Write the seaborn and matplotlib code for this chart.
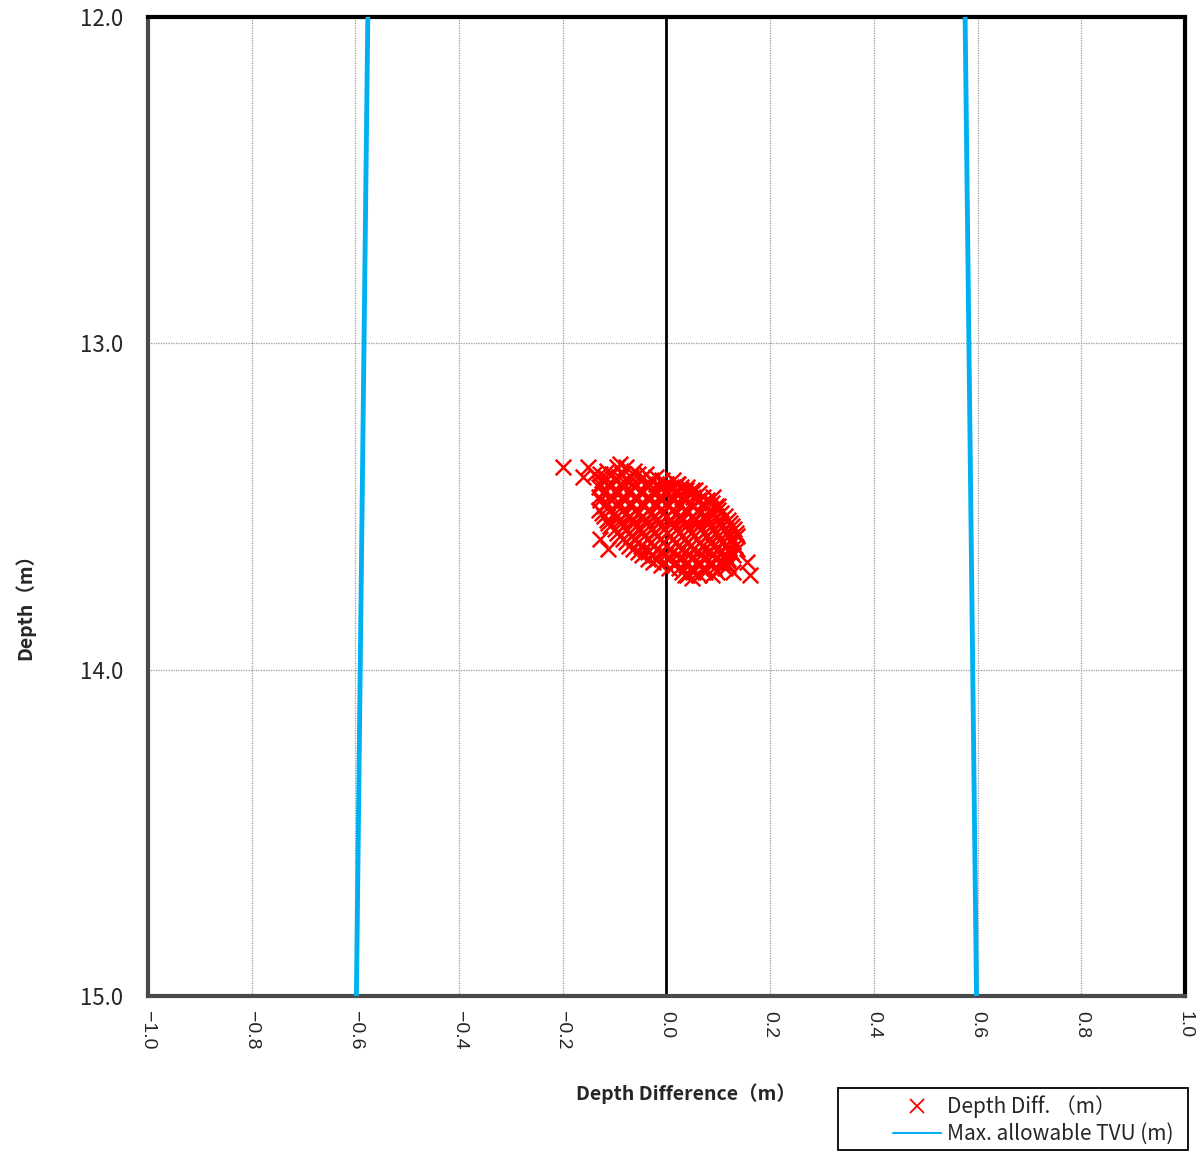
import matplotlib
matplotlib.use("Agg")
import matplotlib.pyplot as plt
import seaborn as sns
import pandas as pd
from matplotlib.lines import Line2D
from matplotlib.patches import Rectangle

sns.set_theme(style="white")
JP = ["Noto Sans CJK JP", "DejaVu Sans"]
plt.rcParams["font.family"] = JP

# Maximum allowable TVU envelope (m) at the ends of the depth range
tvu_depth = [12.0, 15.0]
tvu_limit = [0.576, 0.598]

# Depth differences (m) grouped by sounding depth (m)
row_depths = [13.38, 13.39, 13.40, 13.41, 13.42, 13.43, 13.44, 13.45, 13.46,
              13.47, 13.48, 13.49, 13.50, 13.51, 13.52, 13.53, 13.54, 13.55,
              13.56, 13.57, 13.58, 13.59, 13.60, 13.61, 13.62, 13.63, 13.64,
              13.65, 13.66, 13.67, 13.68, 13.69, 13.70, 13.71]
row_diffs = [
    [-0.095, -0.078],
    [-0.115, -0.062],
    [-0.128, -0.105, -0.085, -0.055, -0.040],
    [-0.118, -0.092, -0.068, -0.045, -0.020],
    [-0.125, -0.100, -0.078, -0.052, -0.030, -0.008, 0.012],
    [-0.128, -0.112, -0.090, -0.067, -0.042, -0.020, 0.000, 0.022],
    [-0.130, -0.108, -0.082, -0.060, -0.035, -0.012, 0.008, 0.028, 0.040],
    [-0.118, -0.095, -0.070, -0.047, -0.022, 0.000, 0.018, 0.038, 0.055],
    [-0.122, -0.097, -0.072, -0.050, -0.025, -0.003, 0.020, 0.045, 0.062],
    [-0.130, -0.110, -0.085, -0.060, -0.038, -0.015, 0.008, 0.030, 0.052, 0.070],
    [-0.128, -0.105, -0.080, -0.058, -0.033, -0.010, 0.012, 0.035, 0.060, 0.078],
    [-0.115, -0.092, -0.068, -0.045, -0.020, 0.002, 0.024, 0.048, 0.070, 0.088],
    [-0.120, -0.095, -0.070, -0.045, -0.020, 0.003, 0.027, 0.050, 0.075, 0.096],
    [-0.130, -0.108, -0.083, -0.060, -0.035, -0.012, 0.010, 0.035, 0.060, 0.082, 0.100],
    [-0.125, -0.100, -0.078, -0.055, -0.030, -0.006, 0.018, 0.040, 0.065, 0.088, 0.106],
    [-0.120, -0.095, -0.070, -0.045, -0.022, 0.002, 0.028, 0.052, 0.076, 0.095, 0.112],
    [-0.115, -0.090, -0.065, -0.040, -0.018, 0.008, 0.030, 0.055, 0.078, 0.100, 0.118],
    [-0.112, -0.088, -0.062, -0.038, -0.015, 0.010, 0.035, 0.058, 0.082, 0.105, 0.122],
    [-0.108, -0.083, -0.058, -0.034, -0.010, 0.015, 0.038, 0.062, 0.085, 0.108, 0.126],
    [-0.100, -0.078, -0.052, -0.028, -0.005, 0.020, 0.043, 0.067, 0.090, 0.112, 0.130],
    [-0.095, -0.072, -0.048, -0.022, 0.002, 0.025, 0.048, 0.072, 0.095, 0.116, 0.134],
    [-0.090, -0.068, -0.043, -0.018, 0.006, 0.030, 0.054, 0.078, 0.100, 0.120, 0.136],
    [-0.084, -0.063, -0.038, -0.013, 0.012, 0.035, 0.058, 0.082, 0.104, 0.125],
    [-0.078, -0.055, -0.030, -0.006, 0.018, 0.040, 0.064, 0.086, 0.108, 0.128],
    [-0.072, -0.050, -0.025, 0.000, 0.022, 0.045, 0.068, 0.090, 0.112, 0.133],
    [-0.065, -0.042, -0.018, 0.006, 0.030, 0.052, 0.075, 0.098, 0.120, 0.136],
    [-0.055, -0.035, -0.010, 0.013, 0.036, 0.060, 0.082, 0.105, 0.125],
    [-0.048, -0.026, -0.002, 0.020, 0.043, 0.067, 0.090, 0.112, 0.128],
    [-0.035, -0.018, 0.005, 0.028, 0.050, 0.074, 0.096, 0.118],
    [-0.025, -0.005, 0.018, 0.040, 0.063, 0.086, 0.108, 0.120],
    [-0.010, 0.015, 0.038, 0.062, 0.085, 0.108, 0.118],
    [0.005, 0.025, 0.048, 0.070, 0.092, 0.112],
    [0.030, 0.052, 0.075, 0.098],
    [0.035, 0.062, 0.088],
]
# Scattered soundings around the main cluster
outlier_diffs = [-0.200, -0.151, -0.161, -0.140, -0.090, -0.128, -0.113, 0.155,
                 0.161, 0.128, 0.040, 0.050, 0.099, 0.090, 0.050, 0.020, 0.000]
outlier_depths = [13.38, 13.38, 13.41, 13.40, 13.37, 13.60, 13.63, 13.67,
                  13.71, 13.70, 13.71, 13.72, 13.50, 13.47, 13.45, 13.43, 13.43]

x_ticks = [-1.0, -0.8, -0.6, -0.4, -0.2, 0.0, 0.2, 0.4, 0.6, 0.8, 1.0]
y_ticks = [12.0, 13.0, 14.0, 15.0]

diffs, depths = [], []
for d, xs in zip(row_depths, row_diffs):
    diffs.extend(xs)
    depths.extend([d] * len(xs))
diffs.extend(outlier_diffs)
depths.extend(outlier_depths)
pts = pd.DataFrame({"diff": diffs, "depth": depths})

tvu = pd.DataFrame({"depth": tvu_depth * 2,
                    "limit": [-v for v in tvu_limit] + tvu_limit,
                    "side": ["neg", "neg", "pos", "pos"]})

fig = plt.figure(figsize=(12.03, 11.62), dpi=100)
ax = fig.add_axes([0.123, 0.1429, 0.862, 0.8425])

ax.grid(True, color="#9a9a9a", linestyle=(0, (1, 1)), linewidth=0.9)
ax.axvline(0.0, color="black", linewidth=2.0, zorder=2)

blue = "#00B0F0"
for side, grp in tvu.groupby("side"):
    sns.lineplot(data=grp, x="limit", y="depth", sort=False, estimator=None,
                 color=blue, linewidth=3.5, ax=ax, zorder=3)

sns.scatterplot(data=pts, x="diff", y="depth", marker="x", color="red",
                s=125, linewidth=1.8, ax=ax, zorder=4)

ax.set_xlim(-1.0, 1.0)
ax.set_ylim(15.0, 12.0)
ax.set_xticks(x_ticks)
ax.set_yticks(y_ticks)
ax.set_xticklabels([f"{v:.1f}".replace("-", "\u2212") for v in x_ticks],
                   rotation=-90, fontsize=14, family="Liberation Sans")
ax.set_yticklabels([f"{v:.1f}" for v in y_ticks], fontsize=16)
ax.tick_params(axis="both", length=0)
ax.tick_params(axis="y", pad=18)
ax.tick_params(axis="x", pad=11)

for name, sp in ax.spines.items():
    sp.set_visible(True)
    sp.set_linewidth(3.0)
    sp.set_color("black" if name in ("top", "right") else "#4a4a4a")

ax.set_xlabel("Depth Difference（m）", fontsize=14, fontweight="bold")
ax.set_ylabel("Depth（m）", fontsize=14, fontweight="bold")
ax.xaxis.set_label_coords(0.519, -0.089)
ax.yaxis.set_label_coords(-0.109, 0.4025)

# Legend box below the plot on the right
fig.patches.append(Rectangle((838 / 1203, 1 - 1150 / 1162), 350 / 1203, 62 / 1162,
                             transform=fig.transFigure, fill=False,
                             edgecolor="black", linewidth=1.3))
handles = [
    Line2D([], [], linestyle="none", marker="x", color="red", markersize=10,
           markeredgewidth=1.3),
    Line2D([], [], color=blue, linewidth=1.5),
]
labels = ["Depth Diff. （m）", "Max. allowable TVU (m)"]
fig.legend(handles, labels, loc="center left",
           bbox_to_anchor=(893 / 1203, 1 - 1120 / 1162), fontsize=15,
           frameon=False, handlelength=2.3, borderpad=0, labelspacing=0.25,
           handletextpad=0.3, borderaxespad=0)

fig.savefig("out.png", dpi=100, facecolor="white")
